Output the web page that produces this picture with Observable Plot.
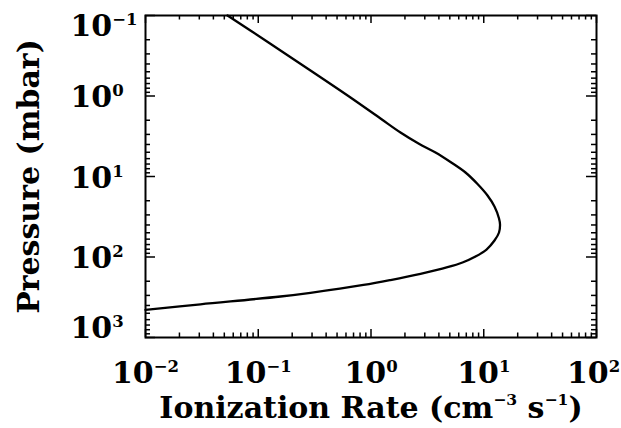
<!DOCTYPE html>
<html>
<head>
<meta charset="utf-8">
<script src="https://cdn.jsdelivr.net/npm/d3@7"></script>
<script src="https://cdn.jsdelivr.net/npm/@observablehq/plot@0.6"></script>
<style>
  html, body { margin: 0; padding: 0; background: white; }
</style>
</head>
<body>
<div id="chart"></div>
<script>
// Ionization rate (cm^-3 s^-1) vs pressure (mbar)
const rate = [0.0534, 0.1233, 0.2905, 0.658, 1.214, 1.826, 2.638, 3.734, 5.072, 6.888, 8.805, 10.80, 12.45, 13.66, 13.94, 13.66, 12.45, 10.58, 8.45, 6.478, 4.77, 2.748, 1.489, 0.858, 0.2905, 0.1575, 0.03074, 0.01];
const pressure = [0.1, 0.2164, 0.4823, 1.044, 1.904, 2.841, 3.891, 5.033, 6.604, 8.918, 12.39, 17.22, 23.59, 33.24, 39.48, 49.62, 62.37, 80.7, 98.6, 117.0, 133.9, 161.7, 193.1, 222.6, 278.4, 309.6, 386.8, 452.9];

const xTicks = [0.01, 0.1, 1, 10];
const xTickLast = [100];
const yTicksMid = [1, 10, 100];
const yTickTop = [0.1];
const yTickBottom = [1000];
const xLabel = "Ionization Rate (cm^{−3} s^{−1})";
const yLabel = "Pressure (mbar)";

const data = rate.map((r, i) => ({rate: r, p: pressure[i]}));

const W = 621, H = 428, mT = 15, mB = 91, mL = 145, mR = 25;
const pw = W - mL - mR, ph = H - mT - mB;

function decadeMinors(lo, hi) {
  const out = [];
  for (let e = lo; e < hi; e++) for (let k = 2; k <= 9; k++) out.push(k * Math.pow(10, e));
  return out;
}
const xMinor = decadeMinors(-2, 2);
const yMinor = decadeMinors(-1, 3);
const xMajor = xTicks.concat(xTickLast);
const yMajor = [0.1, 1, 10, 100, 1000];

const expFmt = d => {
  const e = Math.round(Math.log10(d));
  return "10^{" + (e < 0 ? "−" + (-e) : String(e)) + "}";
};

const font = "'DejaVu Serif', serif";
const tickStroke = {stroke: "black", strokeWidth: 1.5};
const tickText = {tickSize: 0, tickFormat: expFmt, fontSize: 30, fontFamily: font, fontWeight: "bold", label: null};

const chart = Plot.plot({
  width: W, height: H,
  marginTop: mT, marginBottom: mB, marginLeft: mL, marginRight: mR,
  style: {fontFamily: font, fontWeight: "bold", background: "white", color: "black"},
  x: {type: "log", domain: [1e-2, 1e2]},
  y: {type: "log", domain: [1e-1, 1e3], reverse: true},
  marks: [
    // inward ticks, bottom & top
    Plot.ruleX(xMajor, {x: d => d, insetTop: ph - 8, ...tickStroke}),
    Plot.ruleX(xMajor, {x: d => d, insetBottom: ph - 8, ...tickStroke}),
    Plot.ruleX(xMinor, {x: d => d, insetTop: ph - 4.5, ...tickStroke}),
    Plot.ruleX(xMinor, {x: d => d, insetBottom: ph - 4.5, ...tickStroke}),
    // inward ticks, left & right
    Plot.ruleY(yMajor, {y: d => d, insetRight: pw - 10, ...tickStroke}),
    Plot.ruleY(yMajor, {y: d => d, insetLeft: pw - 10, ...tickStroke}),
    Plot.ruleY(yMinor, {y: d => d, insetRight: pw - 5, ...tickStroke}),
    Plot.ruleY(yMinor, {y: d => d, insetLeft: pw - 5, ...tickStroke}),
    Plot.frame({stroke: "black", strokeWidth: 2}),
    Plot.line(data, {x: "rate", y: "p", stroke: "black", strokeWidth: 2.3, curve: "catmull-rom"}),
    // tick labels
    Plot.axisX(xTicks, {...tickText, tickPadding: 24}),
    Plot.axisX(xTickLast, {...tickText, tickPadding: 24, dx: -3}),
    Plot.axisY(yTicksMid, {...tickText, tickPadding: 75, textAnchor: "start", dy: 1.5}),
    Plot.axisY(yTickTop, {...tickText, tickPadding: 75, textAnchor: "start", dy: 10.4}),
    Plot.axisY(yTickBottom, {...tickText, tickPadding: 75, textAnchor: "start", dy: -9.6}),
    // axis titles
    Plot.text([xLabel], {text: d => d, frameAnchor: "bottom", textAnchor: "middle", lineAnchor: "middle", dy: 71, fontSize: 30, fontFamily: font, fontWeight: "bold"}),
    Plot.text([yLabel], {text: d => d, frameAnchor: "left", textAnchor: "middle", rotate: -90, lineAnchor: "middle", dx: -116, fontSize: 30, fontFamily: font, fontWeight: "bold"})
  ]
});

document.getElementById("chart").appendChild(chart);

// turn "10^{−1}" into real superscripts (tspans)
d3.select(chart).selectAll("text").each(function() {
  const t = this.textContent;
  if (!t.includes("^{")) return;
  const holder = this.closest("[font-size]");
  const fs = holder ? parseFloat(holder.getAttribute("font-size")) : 30;
  const isTick = /^10\^/.test(t);
  const supSize = isTick ? fs * 0.55 : fs * 0.52;
  const raise = isTick ? 11 : 13;
  const parts = t.split(/(\^\{[^}]*\})/).filter(s => s.length);
  const sel = d3.select(this);
  sel.text(null);
  let up = false;
  for (const part of parts) {
    const m = part.match(/^\^\{([^}]*)\}$/);
    const ts = sel.append("tspan");
    if (m) {
      ts.attr("font-size", supSize).attr("dy", -raise).text(m[1]);
      up = true;
    } else {
      if (up) ts.attr("dy", raise);
      up = false;
      ts.text(part);
    }
  }
});
</script>
</body>
</html>
